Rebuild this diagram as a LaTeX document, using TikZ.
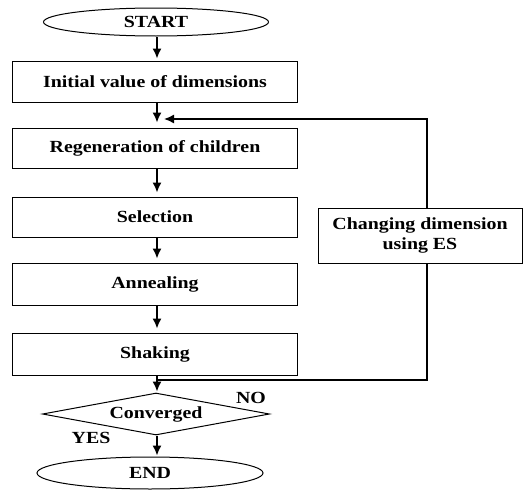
\documentclass[tikz,border=0pt]{standalone}
\usepackage{fontspec}
\setmainfont{Liberation Serif}[BoldFeatures={FakeStretch=1.17}]
\usetikzlibrary{shapes.geometric,arrows.meta}
\begin{document}
\begin{tikzpicture}[x=1pt,y=-1pt,
  every node/.style={font=\fontsize{17}{20}\selectfont\bfseries, text=black},
  procbox/.style={draw, line width=1pt, minimum width=285pt, minimum height=41pt, inner sep=0pt},
  term/.style={draw, ellipse, line width=1pt, inner sep=0pt},
  arr/.style={line width=1.5pt, -{Latex[length=10pt,width=9pt]}},
  ln/.style={line width=1.5pt}]
\useasboundingbox (0,0) rectangle (525,490);
\node[term, minimum width=225pt, minimum height=28pt] (start) at (156,22) {START};
\node[procbox] (init) at (155,81.5) {Initial value of dimensions};
\node[procbox, minimum height=40pt] (regen) at (155,148) {Regeneration of children};
\node[procbox, minimum height=40pt] (sel) at (155,217) {Selection};
\node[procbox, minimum height=42pt] (ann) at (155,284) {Annealing};
\node[procbox, minimum height=42pt] (shake) at (155,354) {Shaking};
\node[draw, diamond, aspect=5.4, line width=1pt, minimum width=227pt, minimum height=42pt, inner sep=0pt] (conv) at (156,414) {Converged};
\node[term, minimum width=226pt, minimum height=32pt] (end) at (150,473) {END};
\node[draw, line width=1pt, minimum width=204pt, minimum height=55pt, inner sep=0pt, align=center] (chg) at (420,235.5) {Changing dimension\\using ES};
\node (no) at (251,398) {NO};
\node (yes) at (91,438) {YES};
% main arrows
\draw[arr, shorten >=2pt] (start.south -| 157,0) -- (init.north -| 157,0);
\draw[arr, shorten >=5pt] (init.south -| 157,0) -- (regen.north -| 157,0);
\draw[arr, shorten >=4pt] (regen.south -| 157,0) -- (sel.north -| 157,0);
\draw[arr, shorten >=4pt] (sel.south -| 157,0) -- (ann.north -| 157,0);
\draw[arr, shorten >=4pt] (ann.south -| 157,0) -- (shake.north -| 157,0);
\draw[arr, shorten >=1pt] (shake.south -| 157,0) -- (conv.north -| 157,0);
\draw[arr, shorten >=1pt] (conv.south -| 157,0) -- (end.north -| 157,0);
% loop
\coordinate (lb) at (157,380);
\coordinate (lt) at (164,119);
\draw[ln] (lb) -- (427,380) -- (chg.south -| 427,0);
\draw[arr] (chg.north -| 427,0) -- (427,119) -- (lt);
\end{tikzpicture}
\end{document}
